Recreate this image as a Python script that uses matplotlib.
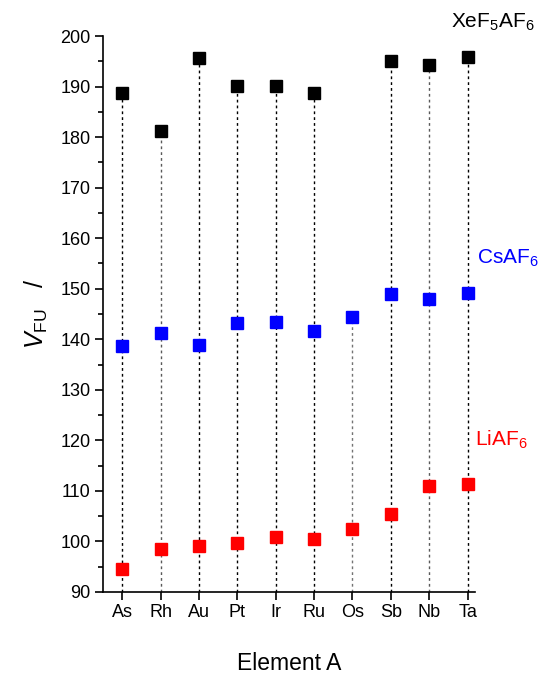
import matplotlib
matplotlib.use("Agg")
import matplotlib.pyplot as plt
import numpy as np

plt.rcParams['font.family'] = ['Liberation Sans', 'DejaVu Sans']
plt.rcParams['mathtext.fontset'] = 'custom'
plt.rcParams['mathtext.rm'] = 'Liberation Sans'
plt.rcParams['mathtext.it'] = 'Liberation Sans:italic'

elements = ['As', 'Rh', 'Au', 'Pt', 'Ir', 'Ru', 'Os', 'Sb', 'Nb', 'Ta']
xef5 = [188.7, 181.2, 195.6, 190.1, 190.1, 188.7, np.nan, 195.1, 194.3, 195.8]
csaf6 = [138.6, 141.2, 138.8, 143.3, 143.5, 141.6, 144.4, 148.9, 147.9, 149.2]
liaf6 = [94.6, 98.6, 99.1, 99.6, 100.8, 100.5, 102.4, 105.4, 110.9, 111.3]
line_colors = ['black', '0.35', 'black', 'black', 'black', 'black', '0.45', 'black', '0.35', 'black']

x = np.arange(len(elements))

fig = plt.figure(figsize=(5.45, 6.77), dpi=100)
ax = fig.add_axes([0.189, 0.1256, 0.683, 0.8212])

# dotted drop lines from the bottom to the highest point of each column
for i in range(len(elements)):
    top = xef5[i] if not np.isnan(xef5[i]) else csaf6[i]
    ax.vlines(x[i], 90, top, colors=line_colors[i], linestyles=(0, (2, 2.2)), linewidth=1.0, zorder=1)

ax.plot(x, xef5, 's', color='black', markersize=8, zorder=3)
ax.plot(x, csaf6, 's', color='#0000ff', markersize=8, zorder=3)
ax.plot(x, liaf6, 's', color='#ff0000', markersize=8, zorder=3)

ax.set_xlim(-0.5, 9.2)
ax.set_ylim(90, 200)
ax.set_xticks(x)
ax.set_xticklabels(elements)
ax.set_yticks(np.arange(90, 201, 10))
ax.set_yticks(np.arange(95, 200, 10), minor=True)
ax.tick_params(axis='both', which='major', direction='out', length=6, width=1.2, labelsize=13, pad=3)
ax.tick_params(axis='y', which='minor', direction='out', length=3.5, width=1.2)

ax.spines['top'].set_visible(False)
ax.spines['right'].set_visible(False)
ax.spines['left'].set_linewidth(1.2)
ax.spines['bottom'].set_linewidth(1.2)

ax.set_xlabel('Element A', fontsize=16.5)
ax.xaxis.set_label_coords(0.5, -0.108)
ax.set_ylabel(r'$V_{\mathrm{FU}}$   /', fontsize=18)
ax.yaxis.set_label_coords(-0.142, 0.5)

ax.text(8.58, 202.8, r'XeF$_5$AF$_6$', fontsize=15, color='black', ha='left', va='center', clip_on=False)
ax.text(9.25, 156.1, r'CsAF$_6$', fontsize=15, color='#0000ff', ha='left', va='center', clip_on=False)
ax.text(9.2, 120.1, r'LiAF$_6$', fontsize=15, color='#ff0000', ha='left', va='center', clip_on=False)

fig.savefig('out.png', dpi=100)
